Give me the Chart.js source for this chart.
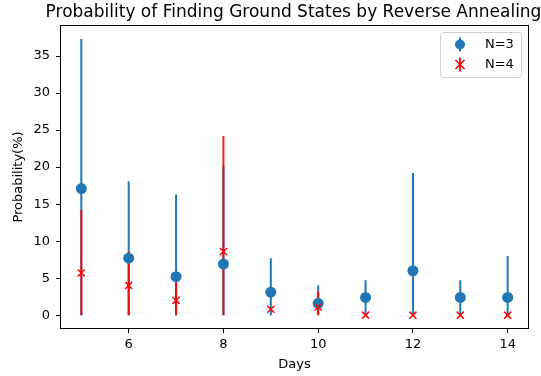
<!DOCTYPE html>
<html>
<head>
<meta charset="utf-8">
<script src="https://cdn.jsdelivr.net/npm/chart.js@4/dist/chart.umd.min.js"></script>
<style>
html,body{margin:0;padding:0;background:#fff;}
#wrap{width:541px;height:376px;position:relative;}
</style>
</head>
<body>
<div id="wrap"><canvas id="c"></canvas></div>
<script>
const days = [5, 6, 7, 8, 9, 10, 11, 12, 13, 14];
const n3Mean  = [17.1, 7.7, 5.2, 6.9, 3.1, 1.6, 2.4, 6.0, 2.4, 2.4];
const n3Lower = [0, 0, 0, 0, 0, 0, 0, 0, 0, 0];
const n3Upper = [37.3, 18.1, 16.3, 20.2, 7.7, 4.0, 4.7, 19.2, 4.7, 8.0];
const n4Mean  = [5.7, 4.0, 2.0, 8.6, 0.8, 1.1, 0, 0, 0, 0];
const n4Lower = [0, 0, 0, 0, 0.8, 0, 0, 0, 0, 0];
const n4Upper = [14.2, 8.6, 4.7, 24.2, 0.8, 3.2, 0, 0, 0, 0];
const seriesLabels = ['N=3', 'N=4'];
const xTitle = 'Days';
const yTitle = 'Probability(%)';
const chartTitle = 'Probability of Finding Ground States by Reverse Annealing';

const BLUE = '#1f77b4';
const RED = 'rgba(255,0,0,0.9)';
const FONT = "'DejaVu Sans', sans-serif";

function pts(xs, ys) { return xs.map((x, i) => ({x: x, y: ys[i]})); }
function bars(xs, lo, hi) {
  const out = [];
  xs.forEach((x, i) => {
    if (hi[i] !== lo[i]) {
      out.push({x: x, y: lo[i]}, {x: x, y: hi[i]}, {x: x, y: null});
    }
  });
  return out;
}

const framePlugin = {
  id: 'frame',
  afterDatasetsDraw(chart) {
    const a = chart.chartArea, ctx = chart.ctx;
    ctx.save();
    ctx.strokeStyle = '#000';
    ctx.lineWidth = 1;
    ctx.strokeRect(Math.round(a.left) + 0.5, Math.round(a.top) + 0.5,
                   Math.round(a.right - a.left) - 1, Math.round(a.bottom - a.top) - 1);
    ctx.restore();
  },
  afterDraw(chart) {
    const a = chart.chartArea, ctx = chart.ctx;
    ctx.save();
    // title, centred over the plot area
    ctx.fillStyle = '#000';
    ctx.font = '17px ' + FONT;
    ctx.textAlign = 'center';
    ctx.textBaseline = 'middle';
    ctx.fillText(chartTitle, (a.left + a.right) / 2 - 1, 12.5);
    // legend
    const bx = a.right - 89, by = a.top + 7, bw = 81, bh = 45;
    ctx.fillStyle = 'rgba(255,255,255,0.8)';
    ctx.strokeStyle = '#d0d0d0';
    ctx.lineWidth = 1;
    ctx.beginPath();
    ctx.roundRect(bx + 0.5, by + 0.5, bw, bh, 3);
    ctx.fill();
    ctx.stroke();
    const mx = bx + 20;
    const rows = [by + 12.5, by + 32.5];
    ctx.strokeStyle = BLUE; ctx.lineWidth = 2;
    ctx.beginPath(); ctx.moveTo(mx, rows[0] - 7); ctx.lineTo(mx, rows[0] + 7); ctx.stroke();
    ctx.fillStyle = BLUE;
    ctx.beginPath(); ctx.arc(mx, rows[0], 5, 0, Math.PI * 2); ctx.fill();
    ctx.strokeStyle = RED; ctx.lineWidth = 2;
    ctx.beginPath(); ctx.moveTo(mx, rows[1] - 7); ctx.lineTo(mx, rows[1] + 7); ctx.stroke();
    ctx.strokeStyle = 'red'; ctx.lineWidth = 1.5;
    ctx.beginPath();
    ctx.moveTo(mx - 4.5, rows[1] - 4.5); ctx.lineTo(mx + 4.5, rows[1] + 4.5);
    ctx.moveTo(mx - 4.5, rows[1] + 4.5); ctx.lineTo(mx + 4.5, rows[1] - 4.5);
    ctx.stroke();
    ctx.fillStyle = '#000';
    ctx.font = '13px ' + FONT;
    ctx.textBaseline = 'middle';
    ctx.textAlign = 'left';
    ctx.fillText(seriesLabels[0], bx + 45, rows[0]);
    ctx.fillText(seriesLabels[1], bx + 45, rows[1]);
    ctx.restore();
  }
};

new Chart(document.getElementById('c'), {
  type: 'scatter',
  data: {
    datasets: [
      {
        label: seriesLabels[1], data: pts(days, n4Mean), order: 0,
        pointStyle: 'crossRot', pointRadius: 5, pointBorderWidth: 1.5,
        borderColor: 'red', backgroundColor: 'red', showLine: false
      },
      {
        label: seriesLabels[0], data: pts(days, n3Mean), order: 1,
        pointStyle: 'circle', pointRadius: 5.5, pointBorderWidth: 0,
        borderColor: BLUE, backgroundColor: BLUE, showLine: false
      },
      {
        label: seriesLabels[1] + ' err', data: bars(days, n4Lower, n4Upper), order: 2,
        showLine: true, spanGaps: false, pointRadius: 0, borderWidth: 2,
        borderColor: RED, backgroundColor: RED
      },
      {
        label: seriesLabels[0] + ' err', data: bars(days, n3Lower, n3Upper), order: 3,
        showLine: true, spanGaps: false, pointRadius: 0, borderWidth: 2,
        borderColor: BLUE, backgroundColor: BLUE
      }
    ]
  },
  options: {
    responsive: true,
    maintainAspectRatio: false,
    animation: false,
    devicePixelRatio: 1,
    layout: { padding: { left: 0, right: 12, top: 25, bottom: 0 } },
    plugins: {
      legend: { display: false },
      tooltip: { enabled: false },
      title: { display: false }
    },
    scales: {
      x: {
        type: 'linear', min: 4.55, max: 14.45,
        afterFit(s) { s.height = 47; },
        ticks: { stepSize: 2, includeBounds: false, color: '#000', padding: 4,
                 font: { family: FONT, size: 13 } },
        grid: { display: true, drawOnChartArea: false, drawTicks: true, tickLength: 4, color: '#000' },
        border: { display: false },
        title: { display: true, text: xTitle, color: '#000', font: { family: FONT, size: 13 },
                 padding: { top: 0, bottom: 4 } }
      },
      y: {
        type: 'linear', min: -1.87, max: 39.2,
        afterFit(s) { s.width = 60; },
        ticks: { stepSize: 5, includeBounds: false, color: '#000', padding: 6,
                 font: { family: FONT, size: 13 } },
        grid: { display: true, drawOnChartArea: false, drawTicks: true, tickLength: 4, color: '#000' },
        border: { display: false },
        title: { display: true, text: yTitle, color: '#000', font: { family: FONT, size: 13 },
                 padding: { top: 11, bottom: 0 } }
      }
    }
  },
  plugins: [framePlugin]
});
</script>
</body>
</html>
